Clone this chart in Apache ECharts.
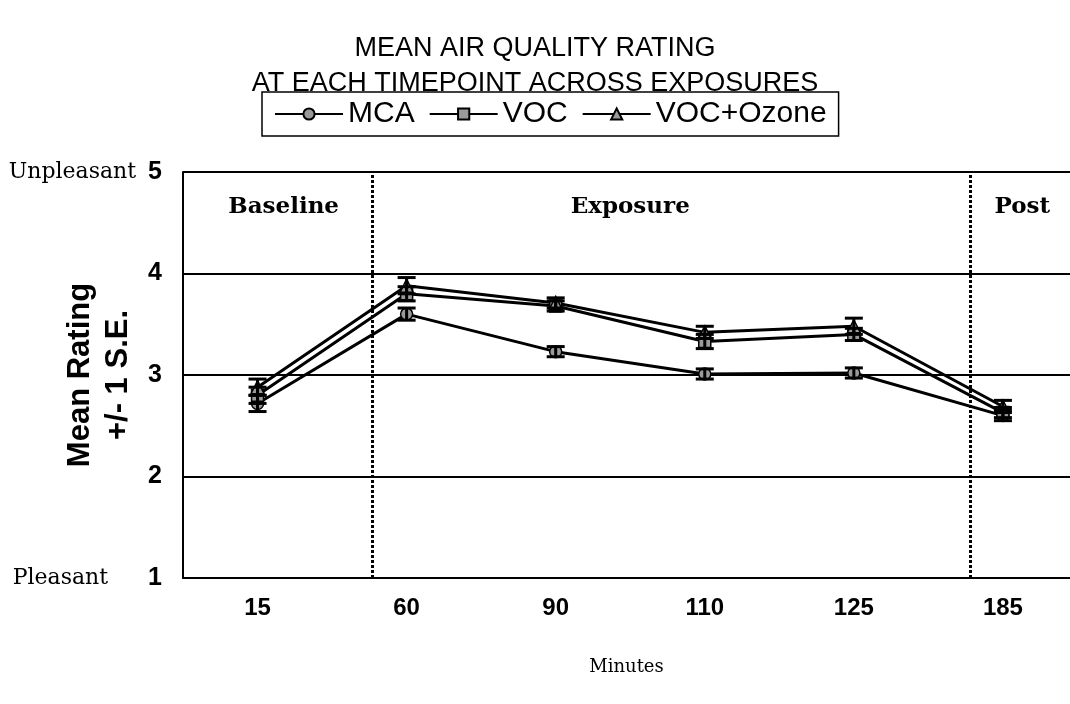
<!DOCTYPE html>
<html><head><meta charset="utf-8">
<script src="https://cdn.jsdelivr.net/npm/echarts@6/dist/echarts.min.js"></script>
<style>html,body{margin:0;padding:0;background:#fff}#c{width:1070px;height:704px}</style>
</head><body><div id="c"></div>
<script>
const categories = ['15', '60', '90', '110', '125', '185'];
const mca = [2.72, 3.60, 3.23, 3.01, 3.02, 2.60];
const voc = [2.80, 3.80, 3.68, 3.33, 3.40, 2.63];
const vocOzone = [2.88, 3.88, 3.71, 3.42, 3.48, 2.69];
const mcaSE = [0.08, 0.06, 0.05, 0.05, 0.05, 0.05];
const vocSE = [0.08, 0.07, 0.05, 0.07, 0.06, 0.05];
const vocOzoneSE = [0.08, 0.08, 0.05, 0.06, 0.08, 0.06];
const yEndLabels = {1: 'Pleasant', 5: 'Unpleasant'};
const phases = ['Baseline', 'Exposure', 'Post'];
const phaseCenters = [0.175, 2.5, 5.13];
const phaseBoundaries = [0.765, 4.78];

const serif = '"DejaVu Serif", "Liberation Serif", serif';
const sans = '"Liberation Sans", Arial, sans-serif';

function pts(vals) { return vals.map((v, i) => [i, v]); }
function errs(vals, se) { return vals.map((v, i) => [i, v - se[i], v + se[i]]); }

function errRender(params, api) {
  const x = api.value(0);
  const lo = api.coord([x, api.value(1)]);
  const hi = api.coord([x, api.value(2)]);
  const w = 9;
  const st = {stroke: '#000', lineWidth: 3};
  return {type: 'group', children: [
    {type: 'line', shape: {x1: lo[0], y1: lo[1], x2: hi[0], y2: hi[1]}, style: st},
    {type: 'line', shape: {x1: lo[0] - w, y1: lo[1], x2: lo[0] + w, y2: lo[1]}, style: st},
    {type: 'line', shape: {x1: hi[0] - w, y1: hi[1], x2: hi[0] + w, y2: hi[1]}, style: st}
  ]};
}

const lineBase = {
  type: 'line', symbolSize: 12, z: 3,
  lineStyle: {color: '#000', width: 3},
  itemStyle: {color: '#9a9a9a', borderColor: '#000', borderWidth: 1.5},
  emphasis: {disabled: true}
};

const chart = echarts.init(document.getElementById('c'));
chart.setOption({
  animation: false,
  backgroundColor: '#fff',
  title: {
    text: 'MEAN AIR QUALITY RATING\nAT EACH TIMEPOINT ACROSS EXPOSURES',
    left: 'center', top: 26,
    textStyle: {fontFamily: sans, fontSize: 27, fontWeight: 'normal', color: '#000', lineHeight: 35}
  },
  legend: {
    top: 92, left: 262,
    data: ['MCA', 'VOC', 'VOC+Ozone'],
    borderColor: '#000', borderWidth: 1.5, padding: [7, 12, 7, 12],
    itemWidth: 68, itemHeight: 14, itemGap: 14,
    textStyle: {fontFamily: sans, fontSize: 30, color: '#000'}
  },
  grid: {left: 183, right: 0, top: 172, bottom: 126, containLabel: false},
  xAxis: {
    type: 'value', min: -0.5, max: 5.45,
    name: 'Minutes', nameLocation: 'middle', nameGap: 80, nameMoveOverlap: false,
    nameTextStyle: {fontFamily: serif, fontSize: 18, color: '#000'},
    axisLine: {show: true, onZero: false, lineStyle: {color: '#000', width: 2}},
    axisTick: {show: false},
    splitLine: {show: false},
    axisLabel: {
      customValues: [0, 1, 2, 3, 4, 5], margin: 18,
      formatter: v => categories[Math.round(v)],
      fontFamily: sans, fontSize: 24, fontWeight: 'bold', color: '#000'
    }
  },
  yAxis: {
    type: 'value', min: 1, max: 5, interval: 1,
    name: 'Mean Rating\n+/- 1 S.E.', nameLocation: 'middle', nameGap: 46, nameRotate: 90,
    nameMoveOverlap: false,
    nameTextStyle: {fontFamily: sans, fontSize: 31, fontWeight: 'bold', color: '#000', lineHeight: 38},
    axisLine: {show: true, onZero: false, lineStyle: {color: '#000', width: 2}},
    axisTick: {show: false},
    splitLine: {show: true, lineStyle: {color: '#000', width: 2}},
    axisLabel: {
      margin: 21,
      formatter: v => {
        if (v === 5) return '{s|' + yEndLabels[v] + '}{g1|}{n|' + v + '}';
        if (v === 1) return '{s|' + yEndLabels[v] + '}{g2|}{n|' + v + '}';
        return '{n|' + v + '}';
      },
      rich: {
        s: {fontFamily: serif, fontSize: 22, color: '#000'},
        g1: {width: 12},
        g2: {width: 40},
        n: {fontFamily: sans, fontSize: 25, fontWeight: 'bold', color: '#000'}
      }
    }
  },
  series: [
    Object.assign({}, lineBase, {
      name: 'MCA', symbol: 'circle', data: pts(mca),
      markLine: {
        silent: true, symbol: 'none', label: {show: false},
        lineStyle: {color: '#000', type: [3, 2], width: 3},
        data: phaseBoundaries.map(b => ({xAxis: b}))
      },
      markPoint: {
        silent: true, symbol: 'circle', symbolSize: 1,
        itemStyle: {color: 'rgba(0,0,0,0)'},
        label: {show: true, position: 'inside', formatter: '{b}',
          fontFamily: serif, fontSize: 23, fontWeight: 'bold', color: '#000'},
        data: phases.map((p, i) => ({name: p, coord: [phaseCenters[i], 4.65]}))
      }
    }),
    Object.assign({}, lineBase, {name: 'VOC', symbol: 'rect', data: pts(voc)}),
    Object.assign({}, lineBase, {name: 'VOC+Ozone', symbol: 'triangle', symbolSize: 13, data: pts(vocOzone)}),
    {type: 'custom', name: 'MCA err', renderItem: errRender, data: errs(mca, mcaSE), z: 4, silent: true},
    {type: 'custom', name: 'VOC err', renderItem: errRender, data: errs(voc, vocSE), z: 4, silent: true},
    {type: 'custom', name: 'VOC+Ozone err', renderItem: errRender, data: errs(vocOzone, vocOzoneSE), z: 4, silent: true}
  ]
});
</script>
</body></html>
